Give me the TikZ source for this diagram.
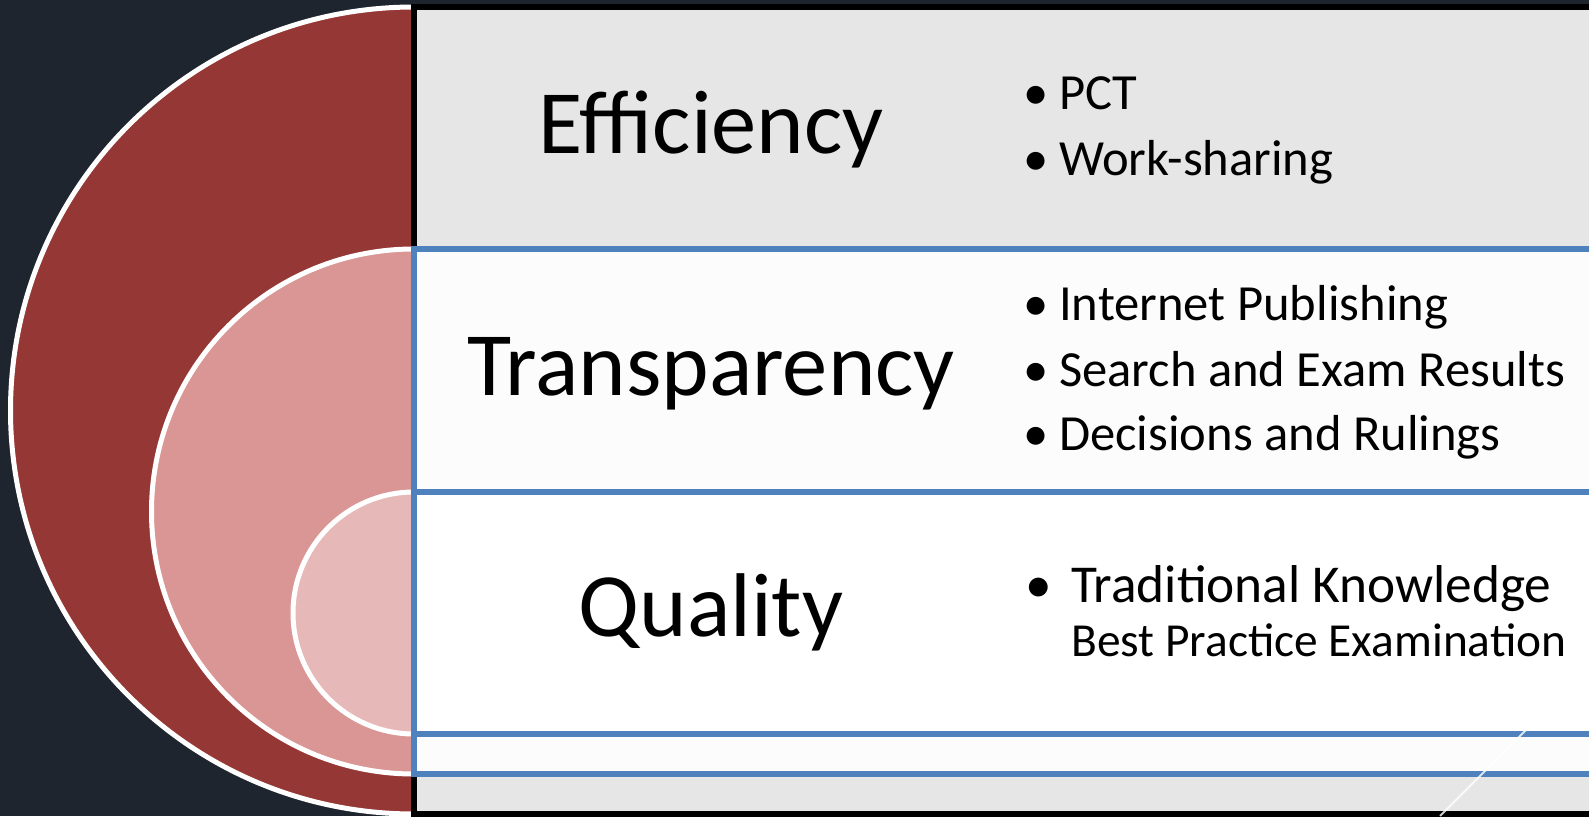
\documentclass[tikz,border=0pt]{standalone}
\usepackage{fontspec}
\setmainfont{Carlito}
\definecolor{slatebg}{RGB}{31,37,46}
\definecolor{ringouter}{RGB}{149,55,53}
\definecolor{ringmid}{RGB}{217,150,148}
\definecolor{ringinner}{RGB}{230,185,184}
\definecolor{rowgray}{RGB}{230,230,230}
\definecolor{rowlight}{RGB}{252,252,252}
\definecolor{rowblue}{RGB}{79,129,189}
\newcommand{\pointmark}[1]{\makebox[#1pt][l]{\textbullet}}
\tikzset{
  halfdisc/.style={draw=white, line width=5pt},
  rowbox/.style={line width=5.5pt},
  rowtitle/.style={anchor=base, inner sep=0pt, font=\fontsize{90.5}{90.5}\selectfont},
  rowpoint/.style={anchor=base west, inner sep=0pt, font=\fontsize{50.6}{50.6}\selectfont},
}

\begin{document}
\begin{tikzpicture}[x=1pt,y=1pt]
                  % Flip the canvas so (0,0) is the top left corner, one unit per pixel
                  \begin{scope}[yscale=-1]
                      \useasboundingbox (0,0) rectangle (1589,816);
                      % Dark slide background
                      \fill[slatebg] (0,0) rectangle (1589,816);
                      \clip (0,0) rectangle (1589,816);

                      % Nested half discs, outer to inner
                      \foreach \cy/\r/\col in {410.5/403.5/ringouter, 511.5/262.5/ringmid, 613/121/ringinner}
                      \draw[halfdisc, fill=\col] (414,\cy-\r) arc[start angle=270, end angle=90, radius=\r] -- cycle;

                      % Row boxes, each as high as its half disc
                      \foreach \top/\bot/\fil/\edge in {7/814/rowgray/black, 249/774/rowlight/rowblue, 492/734/white/rowblue}
                      \draw[rowbox, draw=\edge, fill=\fil] (414,\top) rectangle (1630,\bot);

                      % Faint streak of the slide theme
                      \draw[white, line width=2pt, opacity=0.8] (1440,816) -- (1610,646);

                      % Row titles
                      \node[rowtitle] (eff) at (711,153) {Efficiency};
                      \node[rowtitle] (trans) at (711,395) {Transparency};
                      \node[rowtitle] (qual) at (711,636) {Quality};

                      % Bullet points of each row
                      \node[rowpoint] (pct) at (1023,109) {\pointmark{36}PCT};
                      \node[rowpoint] (work) at (1023,175) {\pointmark{36}Work-sharing};
                      \node[rowpoint] (inet) at (1023,320) {\pointmark{36}Internet Publishing};
                      \node[rowpoint] (search) at (1023,386) {\pointmark{36}Search and Exam Results};
                      \node[rowpoint] (rulings) at (1023,450) {\pointmark{36}Decisions and Rulings};
                      \node[rowpoint, font=\fontsize{53.3}{53.3}\selectfont] (trad) at (1025,602) {\pointmark{46}Traditional Knowledge};
                      \node[rowpoint, font=\fontsize{47.4}{47.4}\selectfont] (best) at (1071,656) {Best Practice Examination};
                  \end{scope}
              \end{tikzpicture}
\end{document}
